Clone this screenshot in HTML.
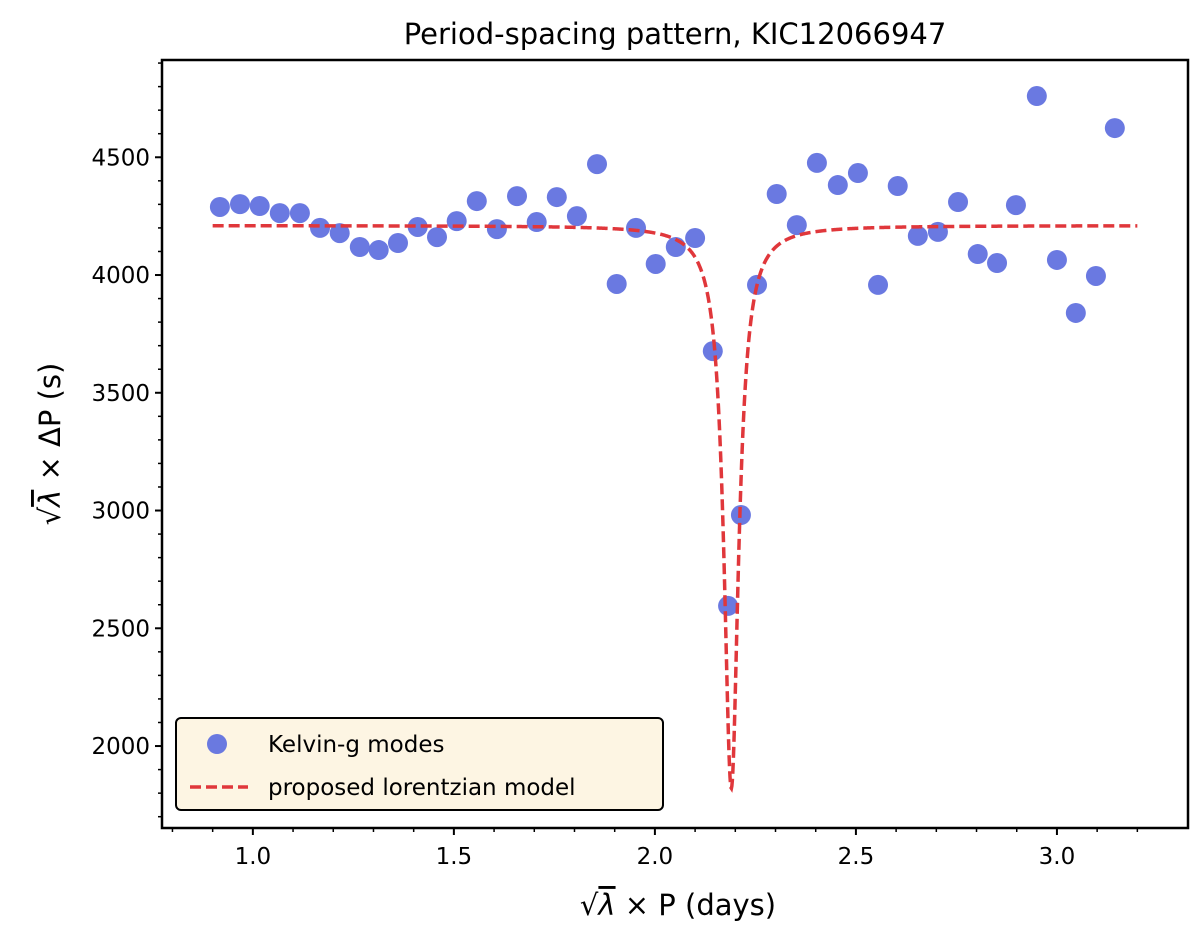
<!DOCTYPE html>
<html><head><meta charset="utf-8"><style>
html,body{margin:0;padding:0;background:#fff;}
svg{display:block;font-family:"DejaVu Sans","Liberation Sans",sans-serif;}
</style></head><body>
<svg id="chart" width="1200" height="931" viewBox="0 0 1200 931" xmlns="http://www.w3.org/2000/svg">
<text x="675" y="44" font-size="29" text-anchor="middle" fill="#000">Period-spacing pattern, KIC12066947</text>
<g id="grid"></g>
<g id="marks"></g>
<rect x="162" y="60" width="1026" height="768" fill="none" stroke="#000" stroke-width="2.5"/>
<text x="678" y="915" font-size="29" text-anchor="middle" fill="#000">√<tspan text-decoration="overline" font-style="italic">λ</tspan> × P (days)</text>
<text transform="translate(60,444) rotate(-90)" font-size="29" text-anchor="middle" fill="#000">√<tspan text-decoration="overline" font-style="italic">λ</tspan> × ΔP (s)</text>
<g>
<rect x="176" y="718" width="487" height="92" rx="5" fill="#fdf5e3" stroke="#000" stroke-width="2"/>
<circle cx="217" cy="744" r="10" fill="#6272df" fill-opacity="0.95"/>
<text x="268" y="752" font-size="23">Kelvin-g modes</text>
<line x1="190" y1="787" x2="248" y2="787" stroke="#e0373b" stroke-width="3.5" stroke-dasharray="11,5"/>
<text x="268" y="795" font-size="23">proposed lorentzian model</text>
</g>
</svg>
<script>
const xVals=[0.918,0.968,1.017,1.067,1.117,1.167,1.216,1.266,1.313,1.361,1.410,1.458,1.507,1.557,1.607,1.657,1.706,1.756,1.806,1.856,1.905,1.953,2.002,2.052,2.100,2.144,2.182,2.214,2.254,2.303,2.353,2.403,2.455,2.505,2.555,2.604,2.654,2.704,2.754,2.803,2.851,2.898,2.950,3.000,3.047,3.097,3.144];
const yVals=[4289,4301,4293,4263,4263,4200,4178,4119,4106,4136,4204,4161,4229,4314,4195,4335,4225,4331,4250,4471,3962,4200,4047,4119,4157,3677,2595,2981,3958,4344,4212,4476,4382,4433,3958,4378,4166,4183,4310,4089,4051,4297,4760,4064,3839,3996,4624];
const xTicks=[1.0,1.5,2.0,2.5,3.0];
const xTickLabels=["1.0","1.5","2.0","2.5","3.0"];
const yTicks=[2000,2500,3000,3500,4000,4500];
const yTickLabels=["2000","2500","3000","3500","4000","4500"];
const modelParams=[4210,2390,2.19,0.022];
const modelRange=[0.9,3.2];
const NS="http://www.w3.org/2000/svg";
const X0=0.774,X1=3.326,Y0=1652,Y1=4913,L=162,R=1188,T=60,B=828;
const sx=v=>L+(v-X0)/(X1-X0)*(R-L);
const sy=v=>B-(v-Y0)/(Y1-Y0)*(B-T);
function mk(t,a,p){const e=document.createElementNS(NS,t);for(const k in a)e.setAttribute(k,a[k]);p.appendChild(e);return e;}
const g=document.getElementById('grid'),m=document.getElementById('marks');
for(let v=0.8;v<=3.3;v+=0.1){const x=sx(v);const maj=xTicks.some(t=>Math.abs(t-v)<1e-6);
 const l=mk('line',{x1:x,x2:x,y1:B,y2:B+(maj?7:4),stroke:'#000','stroke-width':maj?2:1.5},g);
 
 }
xTicks.forEach((v,i)=>{const t=mk('text',{x:sx(v),y:B+36,'font-size':23,'text-anchor':'middle'},g);t.textContent=xTickLabels[i];
 
 });
for(let v=1700;v<=4900;v+=100){const y=sy(v);const maj=v%500===0;
 const l=mk('line',{x1:L,x2:L-(maj?7:4),y1:y,y2:y,stroke:'#000','stroke-width':maj?2:1.5},g);
 
 }
yTicks.forEach((v,i)=>{const t=mk('text',{x:L-12,y:sy(v)+8,'font-size':23,'text-anchor':'end'},g);t.textContent=yTickLabels[i];
 
 });
xVals.forEach((v,i)=>{const c=mk('circle',{cx:sx(v),cy:sy(yVals[i]),r:10,fill:'#6272df','fill-opacity':0.95},m);
 
 });
const [Bs,A,x0,gm]=modelParams;let d='';
for(let i=0;i<=2000;i++){const x=modelRange[0]+(modelRange[1]-modelRange[0])*i/2000;const y=Bs-A*gm*gm/((x-x0)*(x-x0)+gm*gm);d+=(i?'L':'M')+sx(x).toFixed(2)+','+sy(y).toFixed(2);}
const p=mk('path',{d:d,fill:'none',stroke:'#e0373b','stroke-width':3.5,'stroke-dasharray':'11,5'},m);


</script>
</body></html>
